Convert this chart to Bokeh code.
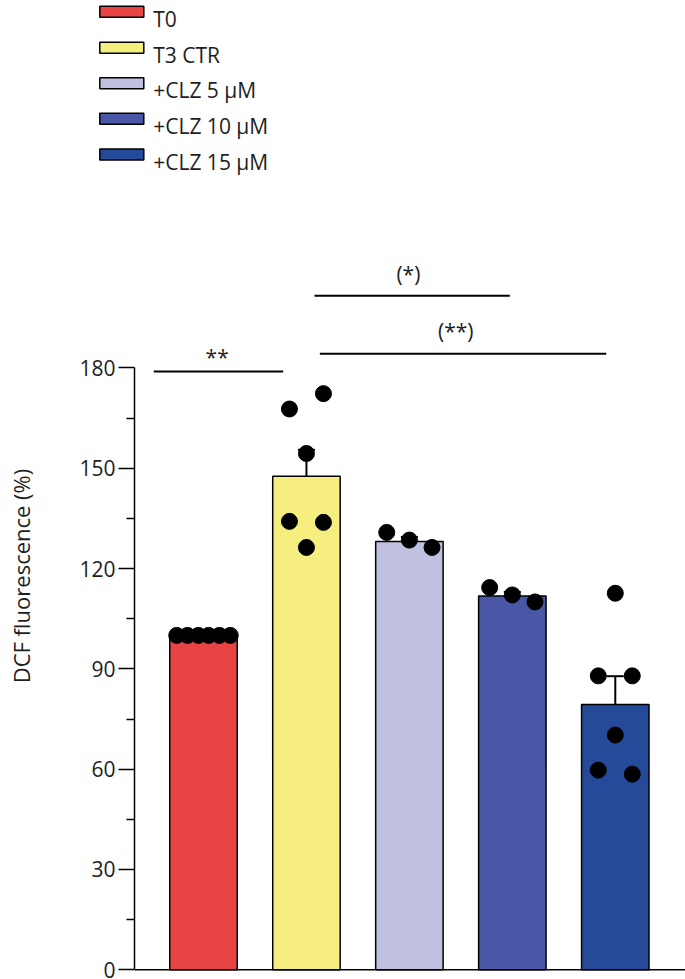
from bokeh.plotting import figure
from bokeh.models import (ColumnDataSource, FixedTicker, Range1d, Whisker, Span)
from bokeh.core.properties import value
from bokeh.embed import file_html
from bokeh.resources import INLINE

# ---- data ----
groups = ["T0", "T3 CTR", "+CLZ 5 \u00b5M", "+CLZ 10 \u00b5M", "+CLZ 15 \u00b5M"]
means = [100.0, 147.6, 128.1, 111.8, 79.3]
sems = [0.0, 7.9, 1.3, 1.2, 8.5]
pts_t0 = [100, 100, 100, 100, 100, 100]
pts_t3 = [167.7, 172.3, 154.4, 134.1, 133.8, 126.3]
pts_c5 = [130.8, 128.5, 126.3]
pts_c10 = [114.3, 112.1, 110.0]
pts_c15 = [112.6, 87.9, 87.9, 70.2, 59.7, 58.5]
colors = ["#E84444", "#F7EE80", "#C0C0E0", "#4A56A6", "#264A9A"]
y_ticks = [0, 30, 60, 90, 120, 150, 180]
y_minor = [15, 45, 75, 105, 135, 165]
sig_labels = ["**", "(*)", "(**)"]
sig_y = [178.9, 201.6, 184.2]

# ---- layout config (dot jitter, bracket extents, label anchors, legend rows) ----
jit_t0 = [-0.26, -0.155, -0.05, 0.05, 0.155, 0.26]
jit_t3 = [-0.165, 0.165, 0.0, -0.165, 0.165, 0.0]
jit3 = [-0.22, 0.0, 0.22]
jit_c15 = [0.0, -0.165, 0.165, 0.0, -0.165, 0.165]
sig_x0 = [0.517, 2.078, 2.130]
sig_x1 = [1.774, 3.975, 4.912]
sig_tx = [1.133, 2.99, 3.45]
sig_ty = [179.2, 203.8, 186.8]
leg_row_y = [11.3, 47.3, 82.7, 118.3, 154.0]   # px from top of legend strip
LEG_SW_X0, LEG_SW_X1, LEG_SW_H, LEG_TX = 99.3, 143.3, 11.0, 152.7

FONT = "Open Sans"
TXT = "#1e1e1e"
W = 685
H_LEG = 180
H_MAIN = 979 - H_LEG
PX_PER_UNIT = 3.344
ZERO_PX = 969.3

xs = [1, 2, 3, 4, 5]
src = ColumnDataSource(dict(x=xs, top=means, color=colors, label=groups,
                            upper=[m + s for m, s in zip(means, sems)],
                            lower=[m - s for m, s in zip(means, sems)]))

# ---------- legend strip ----------
lf = figure(width=W, height=H_LEG, output_backend="svg", toolbar_location=None,
            x_axis_location=None, y_axis_location=None,
            x_range=Range1d(0, W), y_range=Range1d(H_LEG, 0),
            min_border_left=0, min_border_right=0, min_border_top=0, min_border_bottom=0)
lf.grid.visible = False
lf.outline_line_color = None
lf.background_fill_color = None
lf.border_fill_color = None
lsrc = ColumnDataSource(dict(
    left=[LEG_SW_X0] * len(groups), right=[LEG_SW_X1] * len(groups),
    top=[y - LEG_SW_H / 2 for y in leg_row_y], bottom=[y + LEG_SW_H / 2 for y in leg_row_y],
    color=colors, tx=[LEG_TX] * len(groups), ty=[y + 7.0 for y in leg_row_y], label=groups))
lf.quad(left="left", right="right", top="top", bottom="bottom", fill_color="color",
        line_color="black", line_width=1.5, source=lsrc)
lf.text(x="tx", y="ty", text="label", text_align="left", text_baseline="alphabetic",
        text_font=value(FONT), text_font_size="21px", text_color=TXT, source=lsrc)

# ---------- main chart ----------
p = figure(width=W, height=H_MAIN, output_backend="svg", toolbar_location=None,
           x_range=Range1d(0.3298, 5.682),
           y_range=Range1d(-(979 - 8 - ZERO_PX) / PX_PER_UNIT, (ZERO_PX - H_LEG) / PX_PER_UNIT),
           min_border_left=134, min_border_right=0, min_border_top=0, min_border_bottom=8)
p.outline_line_color = None
p.xgrid.visible = False
p.ygrid.visible = False
p.xaxis.visible = False
p.background_fill_color = None
p.border_fill_color = None

bars = p.vbar(x="x", top="top", width=0.655, bottom=0, fill_color="color",
              line_color="black", line_width=1.5, source=src)

p.add_layout(Span(location=0, dimension="width", line_color="black", line_width=1.5))

wh = Whisker(base="x", upper="upper", lower="lower", source=src,
             line_color="black", line_width=2)
wh.upper_head.size = 17
wh.lower_head.size = 17
wh.upper_head.line_width = 2
wh.lower_head.line_width = 2
p.add_layout(wh)

all_x, all_y = [], []
for gi, (pts, jit) in enumerate([(pts_t0, jit_t0), (pts_t3, jit_t3), (pts_c5, jit3),
                                  (pts_c10, jit3), (pts_c15, jit_c15)]):
    for v, j in zip(pts, jit):
        all_x.append(xs[gi] + j)
        all_y.append(v)
p.scatter(all_x, all_y, size=16, color="black")

# significance brackets
p.segment(x0=sig_x0, y0=sig_y, x1=sig_x1, y1=sig_y, line_color="black", line_width=2)
p.text(x=sig_tx, y=sig_ty, text=sig_labels, text_align="center", text_baseline="bottom",
       text_font=value(FONT), text_font_size="21px", text_color=TXT)

# y axis
p.yaxis.ticker = FixedTicker(ticks=y_ticks, minor_ticks=y_minor)
p.yaxis.bounds = (0, 180)
p.yaxis.axis_line_width = 1.5
p.yaxis.axis_line_color = "black"
p.yaxis.major_tick_out = 16
p.yaxis.major_tick_in = 0
p.yaxis.minor_tick_out = 8
p.yaxis.minor_tick_in = 0
p.yaxis.major_tick_line_width = 1.5
p.yaxis.minor_tick_line_width = 1.5
p.yaxis.major_label_text_font = FONT
p.yaxis.major_label_text_font_size = "21px"
p.yaxis.major_label_text_color = TXT
p.yaxis.major_label_standoff = 3
p.yaxis.axis_label = "DCF fluorescence (%)"
p.yaxis.axis_label_text_font = FONT
p.yaxis.axis_label_text_font_size = "22px"
p.yaxis.axis_label_text_font_style = "normal"
p.yaxis.axis_label_text_color = TXT
p.yaxis.axis_label_standoff = 40

open("out.html", "w").write(file_html([lf, p], INLINE))
